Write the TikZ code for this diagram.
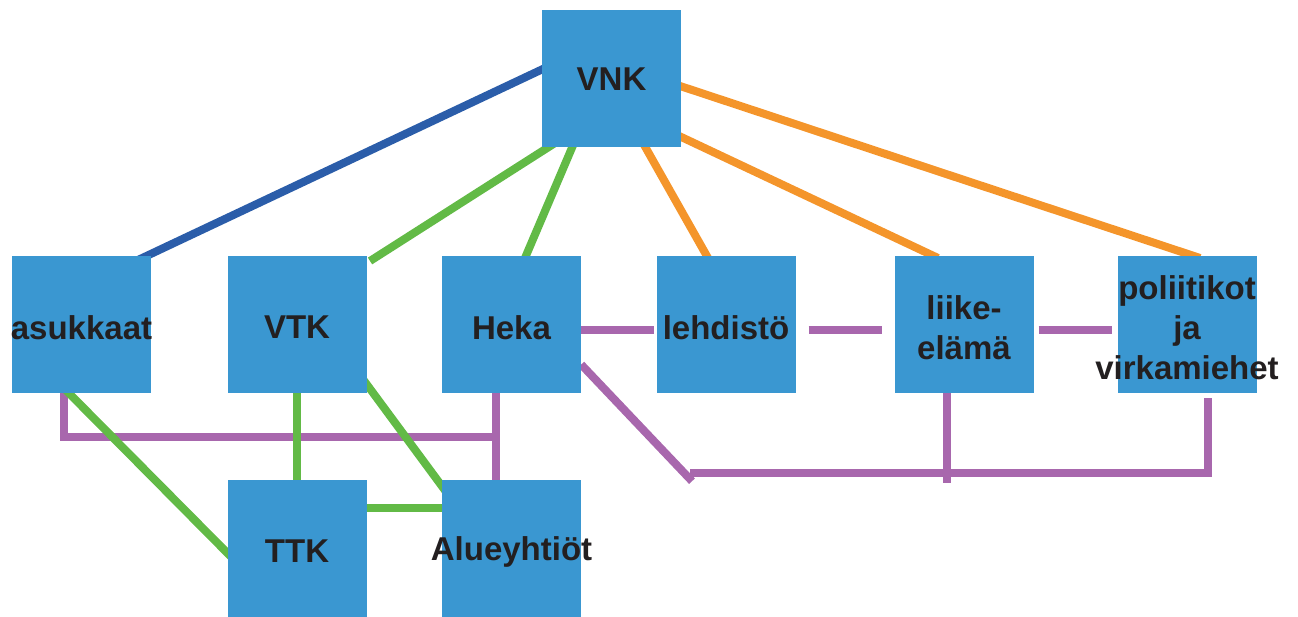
\documentclass[tikz,border=0pt]{standalone}
\usepackage{fontspec}
\setmainfont{Liberation Sans}
\usetikzlibrary{calc}
\definecolor{boxc}{HTML}{3A97D1}
\definecolor{bluec}{HTML}{2B5DA9}
\definecolor{greenc}{HTML}{62BA46}
\definecolor{orangec}{HTML}{F4952B}
\definecolor{purplec}{HTML}{A867AD}
\definecolor{txtc}{HTML}{231F20}
\pgfdeclarelayer{bg}
\pgfsetlayers{bg,main}
\begin{document}
\begin{tikzpicture}[x=1pt,y=-1pt,
  box/.style={fill=boxc,draw=none,minimum width=139pt,minimum height=137pt,inner sep=0pt},
  lbl/.style={text=txtc,font=\fontsize{33}{40}\selectfont\bfseries,align=center,inner sep=0pt,yshift=-3pt},
  conn/.style={line width=8pt},
  bl/.style={conn,draw=bluec},
  gr/.style={conn,draw=greenc},
  og/.style={conn,draw=orangec},
  pu/.style={conn,draw=purplec}]
\useasboundingbox (0,0) rectangle (1298,617);
% nodes
\node[box,label={[lbl,yshift=2pt]center:VNK}] (vnk) at (611.5,78.5) {};
\node[box,label={[lbl]center:asukkaat}] (asu) at (81.5,324.5) {};
\node[box,label={[lbl]center:VTK}] (vtk) at (297,324.5) {};
\node[box,label={[lbl]center:Heka}] (heka) at (511.5,324.5) {};
\node[box,label={[lbl]center:lehdistö}] (leh) at (726,324.5) {};
\node[box,label={[lbl]center:liike-\\elämä}] (liike) at (964,324.5) {};
\node[box,label={[lbl]center:poliitikot\\ja\\virkamiehet}] (pol) at (1187,324.5) {};
\node[box,label={[lbl]center:TTK}] (ttk) at (297,548.5) {};
\node[box,label={[lbl]center:Alueyhtiöt}] (alue) at (511.5,548.5) {};
% connectors
\begin{pgfonlayer}{bg}
\draw[bl] ($(asu)+(56.5,-64.5)$) -- ($(vnk)+(-66.5,-10.5)$);
\draw[gr] ($(vtk)+(73,-63.5)$) -- ($(vnk)+(-56.5,64.5)$);
\draw[gr] ($(heka)+(13.5,-66.5)$) -- ($(vnk)+(-37.5,64.5)$);
\draw[og] ($(vnk)+(31.5,64.5)$) -- ($(leh)+(-18,-66.5)$);
\draw[og] ($(vnk)+(65.5,56.5)$) -- ($(liike)+(-26,-66.5)$);
\draw[og] ($(vnk)+(65.5,6.5)$) -- ($(pol)+(13,-66.5)$);
% purple row
\draw[pu] ($(heka.east)+(0,5.5)$) -- ($(leh.west)+(-2,5.5)$);
\draw[pu] ($(leh.east)+(13,5.5)$) -- ($(liike.west)+(-12,5.5)$);
\draw[pu] ($(liike.east)+(5,5.5)$) -- ($(pol.west)+(-5,5.5)$);
% purple lower right
\coordinate (hz) at ($(leh.south)+(-36,80)$);
\draw[pu] ($(heka.east)+(0,40)$) -- ($(leh.south)+(-34,88)$);
\draw[pu] ($(pol.south)+(21,5)$) |- (hz);
\draw[pu] ($(liike.south)+(-17,0)$) -- ($(liike.south)+(-17,90)$);
% purple left bracket
\draw[pu] ($(asu.south)+(-17.5,0)$) -- ($(asu.south)+(-17.5,44)$) -- ($(heka.south)+(-11.5,44)$);
\draw[pu] ($(heka.south)+(-15.5,0)$) -- ($(alue.north)+(-15.5,0)$);
% green lower
\draw[gr] ($(asu.south)+(-15.5,-3)$) -- ($(ttk.west)+(4,8.5)$);
\draw[gr] (vtk.south) -- (ttk.north);
\draw[gr] ($(vtk.south east)+(-4.5,-15)$) -- ($(alue.north west)+(5,13)$);
\draw[gr] ($(ttk.east)+(0,-40.5)$) -- ($(alue.west)+(0,-40.5)$);
\end{pgfonlayer}
\end{tikzpicture}
\end{document}
